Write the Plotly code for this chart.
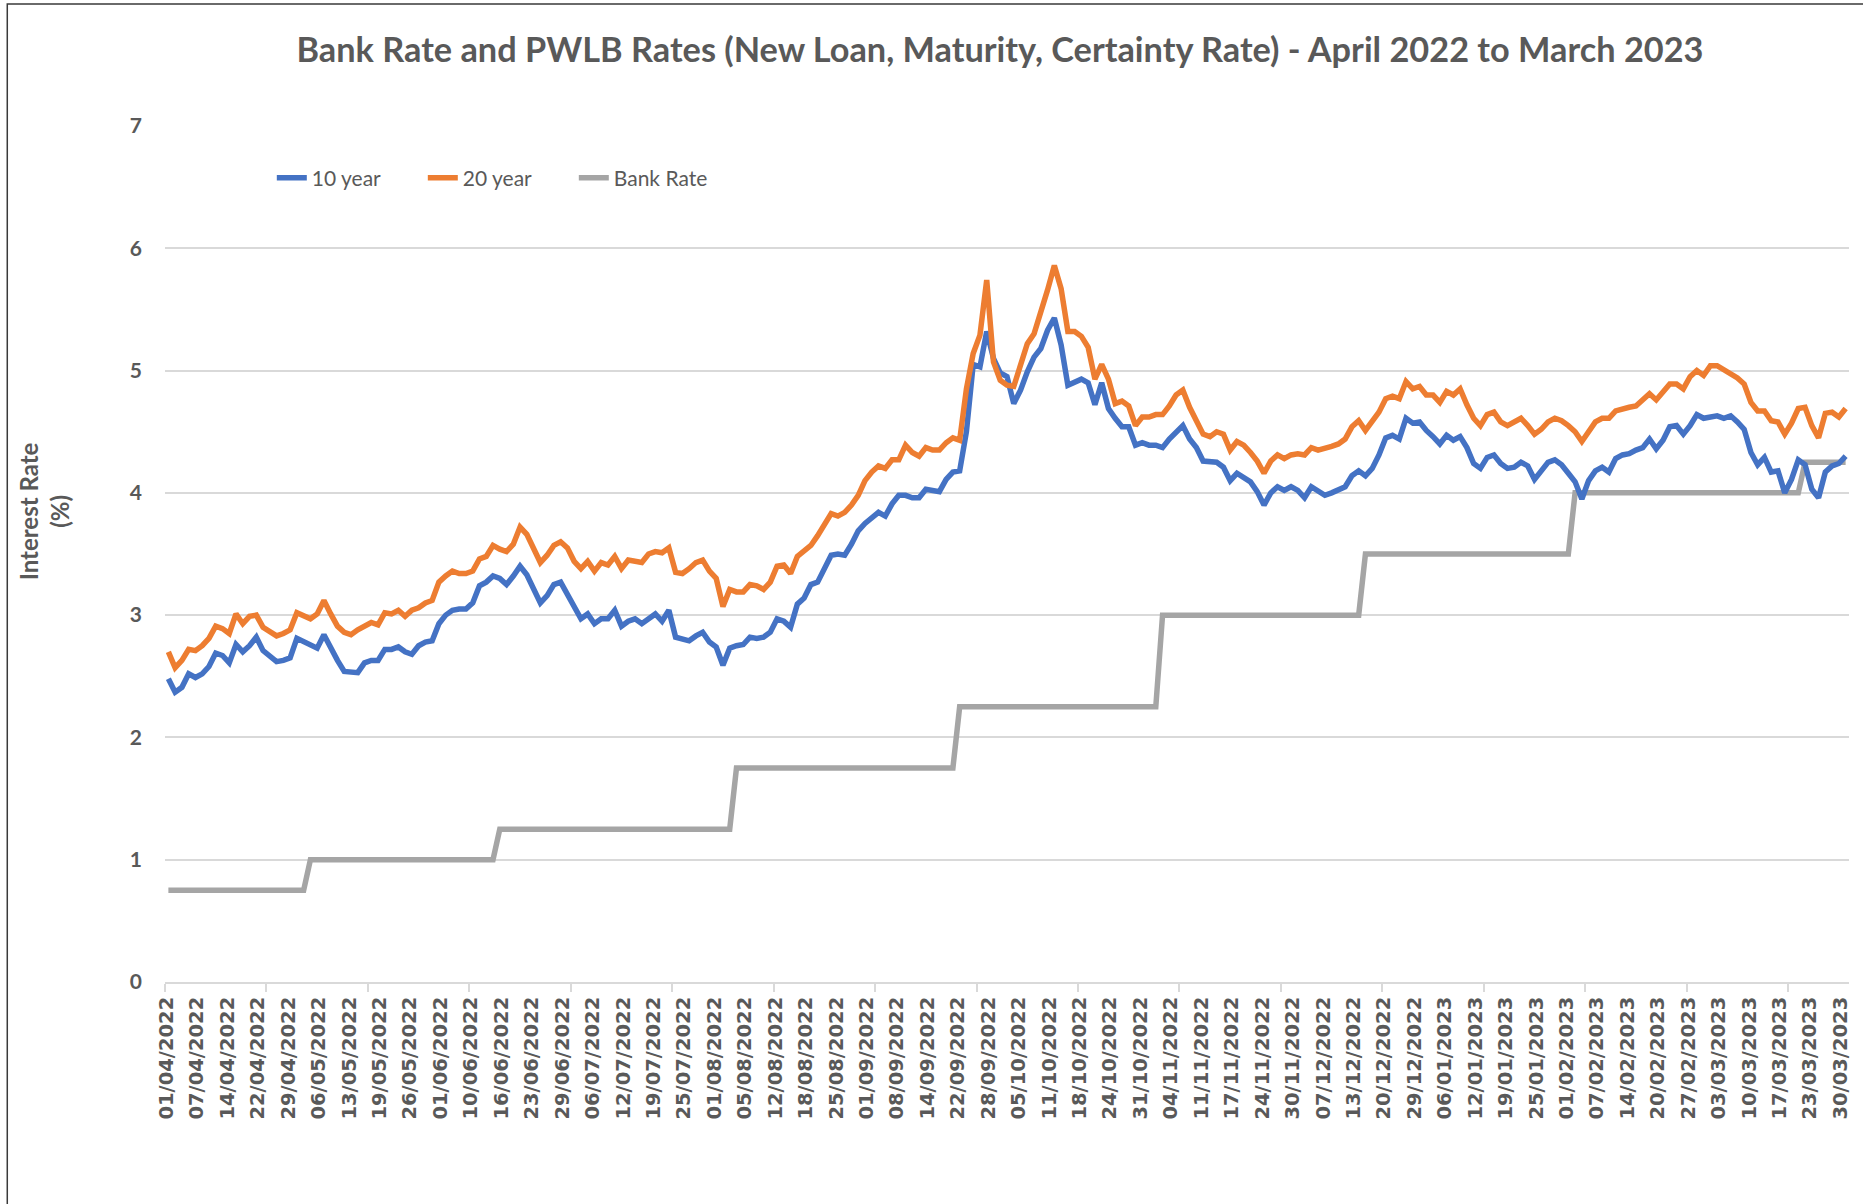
import plotly.graph_objects as go

# ---------------- data ----------------
ten_year = [
    2.48, 2.37, 2.41, 2.52, 2.49, 2.52, 2.58, 2.69, 2.67, 2.61,
    2.76, 2.70, 2.75, 2.82, 2.71, 2.67, 2.62, 2.63, 2.65, 2.81,
    2.78, 2.75, 2.73, 2.84, 2.73, 2.63, 2.54, 2.54, 2.53, 2.61,
    2.63, 2.63, 2.72, 2.72, 2.74, 2.70, 2.68, 2.75, 2.78, 2.79,
    2.93, 3.00, 3.04, 3.05, 3.05, 3.10, 3.24, 3.27, 3.32, 3.30,
    3.25, 3.32, 3.40, 3.33, 3.21, 3.10, 3.16, 3.25, 3.27, 3.17,
    3.06, 2.97, 3.01, 2.93, 2.97, 2.97, 3.04, 2.91, 2.95, 2.97,
    2.93, 2.97, 3.01, 2.95, 3.04, 2.82, 2.81, 2.79, 2.83, 2.86,
    2.78, 2.74, 2.59, 2.73, 2.75, 2.76, 2.82, 2.81, 2.82, 2.86,
    2.97, 2.95, 2.90, 3.09, 3.14, 3.25, 3.27, 3.37, 3.49, 3.50,
    3.49, 3.58, 3.69, 3.75, 3.79, 3.84, 3.81, 3.91, 3.98, 3.98,
    3.96, 3.96, 4.03, 4.02, 4.01, 4.11, 4.17, 4.18, 4.50, 5.05,
    5.03, 5.32, 5.10, 4.98, 4.95, 4.73, 4.84, 4.99, 5.11, 5.18,
    5.33, 5.43, 5.21, 4.88, 4.91, 4.93, 4.90, 4.72, 4.90, 4.69,
    4.61, 4.54, 4.54, 4.39, 4.41, 4.39, 4.39, 4.37, 4.44, 4.49,
    4.55, 4.44, 4.37, 4.26, 4.26, 4.25, 4.21, 4.10, 4.16, 4.13,
    4.09, 4.01, 3.90, 4.00, 4.05, 4.02, 4.05, 4.02, 3.96, 4.05,
    4.01, 3.98, 4.00, 4.02, 4.05, 4.14, 4.18, 4.14, 4.20, 4.31,
    4.45, 4.47, 4.44, 4.61, 4.57, 4.58, 4.51, 4.46, 4.40, 4.47,
    4.43, 4.46, 4.37, 4.24, 4.20, 4.29, 4.31, 4.24, 4.20, 4.21,
    4.25, 4.22, 4.11, 4.18, 4.25, 4.27, 4.23, 4.16, 4.09, 3.95,
    4.10, 4.18, 4.21, 4.17, 4.28, 4.31, 4.32, 4.35, 4.37, 4.44,
    4.36, 4.43, 4.54, 4.55, 4.48, 4.55, 4.64, 4.61, 4.62, 4.63,
    4.61, 4.63, 4.58, 4.52, 4.33, 4.23, 4.29, 4.17, 4.18, 4.00,
    4.11, 4.27, 4.23, 4.03, 3.96, 4.17, 4.22, 4.24, 4.30,
]

twenty_year = [
    2.70, 2.57, 2.63, 2.72, 2.71, 2.75, 2.81, 2.91, 2.89, 2.85,
    3.01, 2.93, 2.99, 3.00, 2.90, 2.87, 2.83, 2.85, 2.88, 3.02,
    2.99, 2.97, 3.01, 3.12, 3.01, 2.91, 2.86, 2.84, 2.88, 2.91,
    2.94, 2.92, 3.02, 3.01, 3.04, 2.99, 3.04, 3.06, 3.10, 3.12,
    3.27, 3.32, 3.36, 3.34, 3.34, 3.36, 3.46, 3.48, 3.57, 3.54,
    3.52, 3.58, 3.72, 3.66, 3.54, 3.43, 3.49, 3.57, 3.60, 3.55,
    3.44, 3.38, 3.44, 3.36, 3.43, 3.41, 3.48, 3.38, 3.45, 3.44,
    3.43, 3.50, 3.52, 3.51, 3.55, 3.35, 3.34, 3.38, 3.43, 3.45,
    3.36, 3.30, 3.07, 3.21, 3.19, 3.19, 3.25, 3.24, 3.21, 3.27,
    3.40, 3.41, 3.34, 3.48, 3.53, 3.57, 3.65, 3.74, 3.83, 3.81,
    3.84, 3.90, 3.98, 4.10, 4.17, 4.22, 4.20, 4.27, 4.27, 4.39,
    4.33, 4.30, 4.37, 4.35, 4.35, 4.41, 4.45, 4.43, 4.85, 5.14,
    5.29, 5.74, 5.07, 4.92, 4.88, 4.87, 5.03, 5.22, 5.30, 5.47,
    5.66, 5.86, 5.67, 5.32, 5.32, 5.28, 5.19, 4.93, 5.05, 4.93,
    4.73, 4.75, 4.71, 4.55, 4.62, 4.62, 4.64, 4.64, 4.71, 4.80,
    4.84, 4.70, 4.60, 4.48, 4.46, 4.50, 4.48, 4.35, 4.42, 4.39,
    4.33, 4.26, 4.16, 4.26, 4.31, 4.28, 4.31, 4.32, 4.31, 4.37,
    4.35, 4.36, 4.38, 4.40, 4.44, 4.54, 4.59, 4.51, 4.58, 4.66,
    4.77, 4.79, 4.77, 4.91, 4.85, 4.87, 4.80, 4.80, 4.74, 4.83,
    4.80, 4.85, 4.72, 4.61, 4.55, 4.64, 4.66, 4.58, 4.55, 4.58,
    4.61, 4.55, 4.48, 4.52, 4.58, 4.61, 4.59, 4.55, 4.50, 4.42,
    4.51, 4.58, 4.61, 4.61, 4.67, 4.69, 4.70, 4.71, 4.76, 4.81,
    4.76, 4.82, 4.89, 4.89, 4.85, 4.95, 5.00, 4.96, 5.04, 5.04,
    5.01, 4.98, 4.94, 4.89, 4.74, 4.67, 4.67, 4.59, 4.58, 4.48,
    4.57, 4.69, 4.70, 4.55, 4.45, 4.65, 4.66, 4.62, 4.69,
]

bank_rate = ([0.75] * 21 + [1.00] * 28 + [1.25] * 35 + [1.75] * 33 +
             [2.25] * 30 + [3.00] * 30 + [3.50] * 31 + [4.00] * 34 +
             [4.25] * 7)

tick_labels = [
    "01/04/2022", "07/04/2022", "14/04/2022", "22/04/2022", "29/04/2022",
    "06/05/2022", "13/05/2022", "19/05/2022", "26/05/2022",
    "01/06/2022", "10/06/2022", "16/06/2022", "23/06/2022", "29/06/2022",
    "06/07/2022", "12/07/2022", "19/07/2022", "25/07/2022",
    "01/08/2022", "05/08/2022", "12/08/2022", "18/08/2022", "25/08/2022",
    "01/09/2022", "08/09/2022", "14/09/2022", "22/09/2022", "28/09/2022",
    "05/10/2022", "11/10/2022", "18/10/2022", "24/10/2022", "31/10/2022",
    "04/11/2022", "11/11/2022", "17/11/2022", "24/11/2022", "30/11/2022",
    "07/12/2022", "13/12/2022", "20/12/2022", "29/12/2022",
    "06/01/2023", "12/01/2023", "19/01/2023", "25/01/2023",
    "01/02/2023", "07/02/2023", "14/02/2023", "20/02/2023", "27/02/2023",
    "03/03/2023", "10/03/2023", "17/03/2023", "23/03/2023", "30/03/2023",
]

# ---------------- figure ----------------
n = len(ten_year)
x = list(range(n))
label_pos = [4.5 * m - 0.25 for m in range(len(tick_labels))]
minor_pos = [15 * j - 0.5 for j in range(17)]

TXT = "#595959"
GRID = "#d9d9d9"
LW = 5.5

fig = go.Figure()
fig.add_trace(go.Scatter(x=x, y=bank_rate, mode="lines", name="Bank Rate",
                         line=dict(color="#A5A5A5", width=LW), legendrank=3))
fig.add_trace(go.Scatter(x=x, y=ten_year, mode="lines", name="10 year",
                         line=dict(color="#4472C4", width=LW), legendrank=1))
fig.add_trace(go.Scatter(x=x, y=twenty_year, mode="lines", name="20 year",
                         line=dict(color="#ED7D31", width=LW), legendrank=2))

fig.update_layout(
    width=1863, height=1204, autosize=False,
    margin=dict(l=165, r=11, t=126, b=222, pad=0),
    paper_bgcolor="white", plot_bgcolor="white",
    title=dict(
        text="Bank Rate and PWLB Rates (New Loan, Maturity, Certainty Rate) - April 2022 to March 2023",
        x=1000 / 1863, xanchor="center", y=1 - 50 / 1204, yanchor="middle",
        font=dict(family="Lato", size=34.3, color=TXT, weight="bold"),
    ),
    showlegend=True,
    legend=dict(orientation="h", x=(272 - 165) / 1687, y=(982 - 178) / 856,
                xanchor="left", yanchor="middle",
                font=dict(family="Lato", size=21, color=TXT),
                bgcolor="rgba(0,0,0,0)", entrywidth=106, entrywidthmode="pixels",
                traceorder="normal"),
    xaxis=dict(
        range=[-0.5, n - 0.5], tickmode="array", tickvals=label_pos, ticktext=tick_labels,
        tickangle=-90, tickfont=dict(family="DejaVu Sans", size=19.5, color=TXT, weight="bold"),
        showgrid=False, zeroline=False, showline=True, linecolor=GRID, linewidth=2,
        ticks="", ticklabelstandoff=5,
        minor=dict(tickmode="array", tickvals=minor_pos, ticks="outside", ticklen=8,
                   tickcolor=GRID, tickwidth=1.5, showgrid=False),
    ),
    yaxis=dict(
        range=[0, 7], dtick=1, tick0=0, showgrid=True, gridcolor=GRID, gridwidth=1.5,
        zeroline=False, showline=False, ticks="", ticklabelstandoff=22,
        tickfont=dict(family="Lato", size=21, color=TXT, weight="bold"),
    ),
    annotations=[dict(
        text="Interest Rate<br>(%)", textangle=-90, showarrow=False,
        xref="paper", yref="paper", x=(44 - 165) / 1687, y=(982 - 511) / 856,
        xanchor="center", yanchor="middle",
        font=dict(family="Lato", size=24, color=TXT, weight="bold"),
    )],
    shapes=[dict(type="rect", xref="paper", yref="paper",
                 x0=(7 - 165) / 1687, x1=1.2, y0=-0.4, y1=(982 - 4) / 856,
                 line=dict(color="#3a3a3a", width=1.5), layer="below")],
)

fig.write_html("out.html")
